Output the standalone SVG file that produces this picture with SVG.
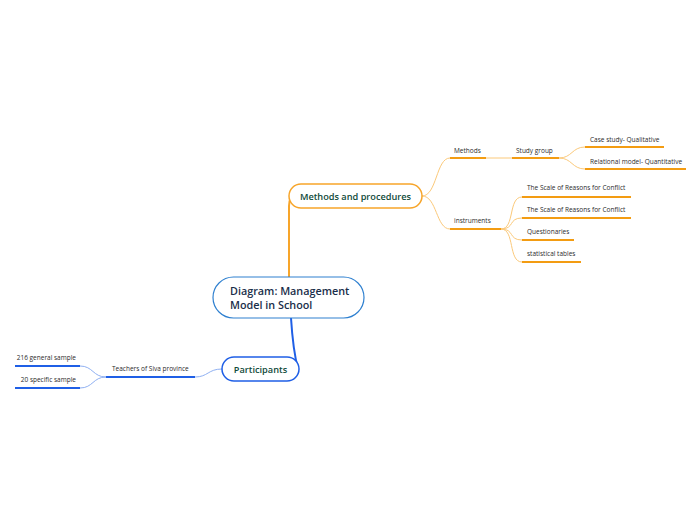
<svg xmlns="http://www.w3.org/2000/svg" width="696" height="520" viewBox="0 0 696 520">
<style>
.lbl{font-family:"Open Sans","Noto Sans",sans-serif;font-size:6.5px;fill:#2b2b2b}
.main{font-family:"Open Sans","Noto Sans",sans-serif;font-size:10.8px;font-weight:600;fill:#1a2e4a}
.topic{font-family:"Open Sans","Noto Sans",sans-serif;font-size:9.2px;font-weight:600;fill:#0f4a3a}
.ou{stroke:#f39c12;stroke-width:2;fill:none}
.oc{stroke:#fbc97a;stroke-width:1;fill:none}
.bu{stroke:#1f5fe6;stroke-width:2;fill:none}
.bc{stroke:#8fb0f2;stroke-width:1;fill:none}
</style>
<rect width="696" height="520" fill="#fff"/>
<g id="connectors">
<path d="M289,277 L289,206 Q289,196 296,196" stroke="#f7a52a" stroke-width="2" fill="none"/>
<path d="M291,318 Q293,350 298,369" stroke="#1f5fe6" stroke-width="2" fill="none"/>
<path class="oc" d="M422,196 C437,196 436,158 450,158"/>
<path class="oc" d="M422,196 C437,196 436,229 450,229"/>
<path class="oc" d="M486,158 L512,158"/>
<path class="oc" d="M559,158 C572,158 572,147 585,147"/>
<path class="oc" d="M559,158 C572,158 572,169 585,169"/>
<path class="oc" d="M501,229 C515,229 508,197 522,197"/>
<path class="oc" d="M501,229 C515,229 508,218 522,218"/>
<path class="oc" d="M501,229 C515,229 508,240 522,240"/>
<path class="oc" d="M501,229 C515,229 508,262 522,262"/>
<path class="bc" d="M222,369 C208,369 208,377 195,377"/>
<path class="bc" d="M106,377 C93,377 93,366 80,366"/>
<path class="bc" d="M106,377 C93,377 93,388 80,388"/>
</g>
<g id="central">
<rect x="213" y="277" width="151" height="41" rx="20.5" fill="#fff" stroke="#2f80d0" stroke-width="1.2"/>
<text class="main" x="230" y="295">Diagram: Management</text>
<text class="main" x="230" y="309">Model in School</text>
</g>
<g id="methods-procedures">
<rect x="289" y="184" width="133" height="24" rx="12" fill="#fff" stroke="#f7a52a" stroke-width="1.5"/>
<text class="topic" x="355.5" y="199.5" text-anchor="middle">Methods and procedures</text>
</g>
<g id="participants">
<rect x="222" y="357" width="77" height="24" rx="12" fill="#fff" stroke="#1f5fe6" stroke-width="1.5"/>
<text class="topic" x="260.5" y="372.5" text-anchor="middle">Participants</text>
</g>
<g id="methods">
<path class="ou" d="M450,158 L486,158"/>
<text class="lbl" x="454" y="153">Methods</text>
</g>
<g id="study-group">
<path class="ou" d="M512,158 L559,158"/>
<text class="lbl" x="516" y="153">Study group</text>
</g>
<g id="case-study">
<path class="ou" d="M585,147 L664,147"/>
<text class="lbl" x="590" y="142">Case study- Qualitative</text>
</g>
<g id="relational">
<path class="ou" d="M585,169 L686,169"/>
<text class="lbl" x="590" y="164">Relational model- Quantitative</text>
</g>
<g id="instruments">
<path class="ou" d="M450,229 L501,229"/>
<text class="lbl" x="454" y="223">instruments</text>
</g>
<g id="scale1">
<path class="ou" d="M522,197 L631,197"/>
<text class="lbl" x="527" y="190">The Scale of Reasons for Conflict</text>
</g>
<g id="scale2">
<path class="ou" d="M522,218 L631,218"/>
<text class="lbl" x="527" y="212">The Scale of Reasons for Conflict</text>
</g>
<g id="questionaries">
<path class="ou" d="M522,240 L574,240"/>
<text class="lbl" x="527" y="234">Questionaries</text>
</g>
<g id="statistical-tables">
<path class="ou" d="M522,262 L581,262"/>
<text class="lbl" x="527" y="256">statistical tables</text>
</g>
<g id="teachers">
<path class="bu" d="M106,377 L195,377"/>
<text class="lbl" x="112" y="371">Teachers of Siva province</text>
</g>
<g id="general-sample">
<path class="bu" d="M15,366 L80,366"/>
<text class="lbl" x="76" y="360" text-anchor="end">216 general sample</text>
</g>
<g id="specific-sample">
<path class="bu" d="M15,388 L80,388"/>
<text class="lbl" x="76" y="382" text-anchor="end">20 specific sample</text>
</g>
</svg>
